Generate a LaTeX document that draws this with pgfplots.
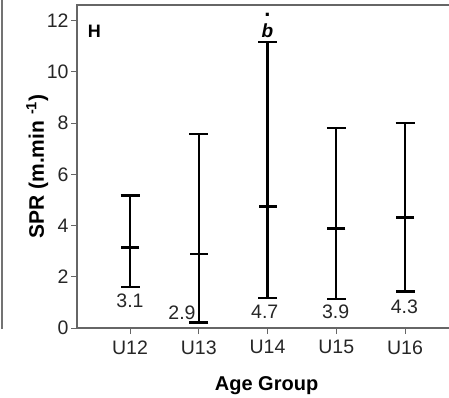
\documentclass[border=0pt]{standalone}
\usepackage{fontspec}
\setmainfont{Liberation Sans}
\usepackage{pgfplots}
\pgfplotsset{compat=1.18}
\begin{document}
\begin{tikzpicture}
\begin{axis}[
  at={(77pt,69pt)}, anchor=south west,
  scale only axis, width=383pt, height=323pt,
  xmin=-0.771, xmax=4.80, ymin=0, ymax=12.61,
  clip=false,
  axis line style={draw=black!60, line width=1.3pt},
  xtick={0,1,2,3,4}, xticklabels={U12,U13,U14,U15,U16},
  ytick={0,2,4,6,8,10,12},
  xtick pos=bottom, ytick pos=left, tick align=outside,
  major tick length=6pt,
  tick style={draw=black!60, line width=1pt},
  /pgf/number format/assume math mode=true,
  ticklabel style={font=\fontsize{19.5}{21}\selectfont, text=black!85},
  xticklabel style={yshift=-3pt},
  yticklabel style={xshift=1pt},
  xlabel={\textbf{Age Group}},
  ylabel={\textbf{SPR (m.min \textsuperscript{-1})}},
  xlabel style={font=\fontsize{20}{22}\selectfont, at={(axis description cs:0.495,-0.178)}, anchor=center},
  ylabel style={font=\fontsize{21}{23}\selectfont, at={(axis description cs:-0.104,0.5)}, anchor=center},
]
\addplot[black, only marks, mark=-, mark size=9pt, mark options={line width=2.4pt},
  error bars/.cd, y dir=both, y explicit,
  error bar style={line width=2.4pt, black},
  error mark options={rotate=90, line width=2.4pt, mark size=9.5pt, black}]
coordinates {
  (0,3.15) += (0,2.02) -= (0,1.56)
  (1,2.89) += (0,4.69) -= (0,2.68)
  (2,4.74) += (0,6.42) -= (0,3.58)
  (3,3.89) += (0,3.91) -= (0,2.76)
  (4,4.32) += (0,3.68) -= (0,2.90)
};
\begin{scope}[every node/.style={font=\fontsize{19.5}{21}\selectfont, text=black!85}]
\node at (axis cs:0,1.05) {3.1};
\node at (axis cs:0.756,0.60) {2.9};
\node at (axis cs:1.96,0.64) {4.7};
\node at (axis cs:2.99,0.64) {3.9};
\node at (axis cs:3.99,0.83) {4.3};
\end{scope}
\node[font=\fontsize{19}{21}\selectfont\bfseries\itshape] at (axis cs:2,11.62) {b};
\node[font=\fontsize{22}{24}\selectfont\bfseries, inner sep=0pt] at (axis cs:2,12.24) {.};
\node[font=\fontsize{18}{20}\selectfont\bfseries, anchor=west, inner sep=0pt] at (axis description cs:0.028,0.919) {H};
\end{axis}
\draw[black!55, line width=1.5pt] (2pt,68pt) -- (2pt,397pt);
\pgfresetboundingbox
\useasboundingbox (0,0) rectangle (449pt,397pt);
\end{tikzpicture}
\end{document}
